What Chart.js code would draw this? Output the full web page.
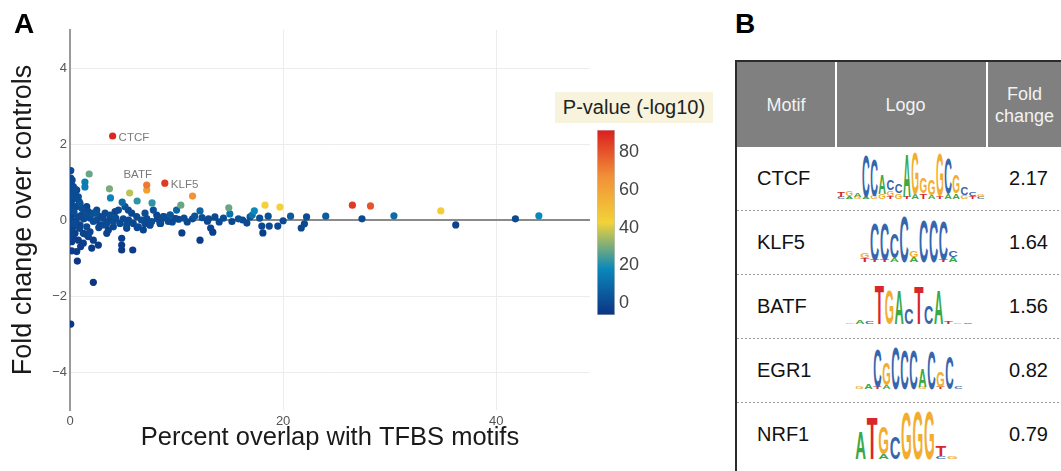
<!DOCTYPE html>
<html>
<head>
<meta charset="utf-8">
<script src="https://cdn.jsdelivr.net/npm/chart.js@4"></script>
<style>
  body { margin: 0; background: #fff; font-family: 'Liberation Sans', Arial, sans-serif; }
  #wrap { position: relative; width: 1061px; height: 471px; overflow: hidden; }
  .panel { position: absolute; top: 10px; font: bold 28px 'Liberation Sans', Arial, sans-serif; line-height: 28px; color: #000; }
  #cbTitle { position: absolute; left: 555px; top: 92px; width: 158px; height: 31px; line-height: 31px;
             background: #f7f3dc; color: #222; font-size: 20px; text-align: center; }
  #tabla { position: absolute; left: 735px; top: 60px; width: 326px; height: 411px; box-sizing: border-box;
           border-left: 2px solid #2b2b2b; border-top: 2px solid #2b2b2b; }
  .cab { position: absolute; top: 0; height: 85px; background: #808080; color: #f2f2f2; font-size: 18px;
         display: flex; align-items: center; justify-content: center; text-align: center; line-height: 22px; }
  .fila { position: absolute; left: 0; width: 324px; height: 63px; }
  .sep { position: absolute; left: 0; width: 324px; height: 1px;
         background-image: linear-gradient(to right, #9a9a9a 50%, transparent 50%); background-size: 4px 1px; }
  .nombre { position: absolute; left: 20px; top: 0; height: 63px; line-height: 63px; font-size: 20px; color: #111; }
  .valor { position: absolute; right: 13px; top: 0; height: 63px; line-height: 63px; font-size: 20px; color: #111; }
  .logo { position: absolute; }
</style>
</head>
<body>
<div id="wrap">
  <canvas id="graficoScatter" width="720" height="471" style="position:absolute;left:0;top:0"></canvas>
  <canvas id="graficoEscala" width="60" height="215" style="position:absolute;left:590px;top:115px"></canvas>
  <div class="panel" style="left:14px">A</div>
  <div class="panel" style="left:735px">B</div>
  <div id="cbTitle">P-value (-log10)</div>
  <div id="tabla"></div>
</div>
<script>
// ---- datos panel A ----
const overlapPct = [
  4.0, 8.9, 7.2, 7.2, 11.5, 1.8, 1.4, 1.4, 3.7, 3.8,
  5.6, 4.9, 6.3, 7.7, 10.4, 14.9, 15.0, 17.3, 17.1, 18.3,
  19.7, 26.5, 28.2, 30.4, 34.8, 44.0, 10.0, 12.2, 20.7, 24.0,
  22.2, 27.4, 41.8, 36.2, 21.7, 22.0, 18.1, 19.5, 18.0, 18.7,
  16.6, 15.8, 14.4, 13.6, 12.9, 12.2, 13.2, 13.4, 10.5, 11.5,
  18.6, 9.0, 9.6, 10.2, 11.0, 12.4, 14.0, 15.2, 16.2, 17.8,
  20.0, 16.9, 11.7, 10.7, 13.0, 9.4, 9.9, 8.5, 8.8, 7.5,
  0.07, 0.07, 0.31, 0.47, 0.63, 0.47, 0.78, 0.25, 0.87, 0.94,
  0.56, 0.31, 1.10, 1.25, 1.57, 1.72, 1.57, 2.19, 2.51, 2.82,
  3.29, 3.76, 4.23, 4.54, 5.16, 5.47, 5.79, 6.26, 7.04, 7.20,
  7.82, 8.14, 8.76, 9.39, 9.86, 0.16, 0.16, 0.31, 0.94, 1.57,
  2.19, 2.82, 3.45, 4.07, 4.69, 5.32, 5.94, 6.41, 7.04, 7.67,
  8.45, 9.23, 0.31, 0.47, 0.90, 1.25, 0.78, 1.25, 1.72, 1.88,
  2.19, 2.66, 2.04, 3.13, 3.45, 4.07, 4.85, 4.85, 4.85, 5.89,
  5.32, 6.30, 6.88, 7.51, 8.45, 0.16, 0.69, 2.19, 0.07, 0.16,
  0.16, 0.63, 1.41, 2.50, 0.16, 0.05, 0.05, 0.38, 0.75, 1.30,
  1.90, 2.50, 3.10, 3.70, 4.30, 5.00, 5.50, 6.70, 8.20, 3.60,
  0.10, 0.20, 0.40, 0.05, 0.55, 1.05, 0.08, 0.30, 1.00, 2.70
];
const foldChange = [
  2.21, 0.97, 0.92, 0.79, 0.63, 1.21, 1.00, 0.87, 0.82, 0.58,
  0.71, 0.47, 0.50, 0.45, 0.39, 0.32, 0.16, 0.24, 0.13, 0.39,
  0.34, 0.39, 0.37, 0.11, 0.24, 0.11, 0.26, 0.24, 0.10, 0.10,
  0.08, 0.03, 0.03, -0.13, -0.21, -0.10, -0.34, -0.16, -0.16, -0.16,
  -0.08, 0.03, 0.05, 0.08, -0.03, -0.53, -0.21, -0.32, -0.34, 0.03,
  0.10, 0.05, -0.05, 0.02, -0.05, 0.06, -0.05, -0.04, 0.00, 0.05,
  -0.02, 0.08, 0.10, 0.05, 0.03, 0.13, 0.04, -0.09, 0.09, -0.13,
  1.30, 1.10, 0.88, 0.81, 0.79, 0.70, 0.61, 0.53, 0.48, 0.44,
  0.35, 0.35, 0.31, 0.28, 0.35, 0.22, 0.13, 0.18, 0.26, 0.09,
  0.18, 0.13, 0.22, 0.26, 0.35, 0.26, 0.18, 0.09, 0.18, 0.04,
  0.26, 0.13, 0.09, 0.13, 0.04, 0.13, 0.00, -0.09, -0.13, -0.18,
  -0.04, -0.13, -0.09, -0.18, -0.09, -0.13, -0.09, -0.18, -0.09, -0.04,
  -0.09, -0.04, -0.18, -0.35, -0.22, -0.35, -0.53, -0.61, -0.44, -0.31,
  -0.53, -0.66, -0.74, -0.13, -0.35, -0.04, -0.48, -0.66, -0.79, -0.79,
  -0.22, -0.20, -0.26, -0.13, -0.04, -0.81, -1.08, -1.64, -2.74, -0.26,
  -0.57, -0.83, -0.37, 0.18, 0.79, 0.63, 0.39, 0.21, 0.08, 0.03,
  0.05, 0.00, 0.05, 0.00, 0.05, 0.03, 0.00, 0.00, 0.03, -0.26,
  0.95, 1.05, 0.60, 0.22, -0.05, 0.12, -0.40, -0.48, -0.70, -0.20
];
const pValue = [
  90, 86, 72, 62, 66, 28, 15, 15, 30, 17,
  37, 10, 22, 22, 28, 28, 12, 18, 12, 43,
  43, 86, 80, 10, 45, 18, 8, 8, 5, 5,
  1, 0, 0, -2, -1, 0, -3, 0, -1, 0,
  0, 2, 1, 0, -1, -4, -2, -3, -3, 0,
  2, 1, 0, 0, -1, 1, 0, -1, 0, 1,
  0, 2, 3, 1, 0, 3, 0, -1, 1, -2,
  0, -1, 0, 1, -2, 0, 1, -1, 0, 2,
  -1, 0, 1, 0, -2, 0, 1, 2, 0, -1,
  0, 1, -1, 0, 2, 0, -1, 0, 1, 0,
  2, -1, 0, 1, 0, -3, -2, 0, -1, 0,
  1, -2, 0, -1, 0, 1, -1, 0, 0, 1,
  -1, 0, -2, -3, -1, -2, -4, -3, -2, -1,
  -3, -4, -4, 0, -2, 1, -3, -4, -5, -4,
  -1, -1, -2, 0, 0, -4, -5, -6, -6, -2,
  -3, -4, -2, 2, 0, 1, 0, 1, 0, 0,
  1, 0, 0, -1, 1, 0, 0, 1, 0, -2,
  0, -1, 1, 0, -1, 0, -2, -3, -4, -1
];
const labelNames = ['CTCF', 'KLF5', 'BATF'];
const labelIdx = [0, 1, 2];
const xTicks = [0, 20, 40];
const yTicks = [-4, -2, 0, 2, 4];
const cbTicks = [0, 20, 40, 60, 80];
const pMin = -6.6, pMax = 92;

// ---- datos panel B ----
const motifs = ['CTCF', 'KLF5', 'BATF', 'EGR1', 'NRF1'];
const motifFold = [2.17, 1.64, 1.56, 0.82, 0.79];
const ctcfLogo = [
  [['C',.05],['T',.12]], [['A',.06],['G',.12]], [['G',.05],['A',.08]], [['A',.05],['C',.9]],
  [['G',.07],['C',.78]], [['G',.1],['A',.42]], [['T',.06],['G',.12],['C',.22]], [['G',.12],['C',.2]],
  [['T',.05],['A',.92]], [['A',.1],['G',.9]], [['T',.12],['G',.32]], [['A',.08],['G',.34]],
  [['T',.06],['G',.92]], [['A',.1],['C',.76]], [['A',.12],['G',.38]], [['G',.08],['C',.15]],
  [['T',.06],['C',.08]], [['C',.04],['G',.05]]
];
const klf5Logo = [
  [['T',.08],['G',.12]], [['T',.05],['C',.82]], [['T',.05],['C',.82]], [['A',.08],['C',.55]],
  [['C',1]], [['A',.1],['G',.14]], [['C',.92]], [['C',.92]], [['T',.05],['C',.88]], [['A',.1],['C',.14]]
];
const batfLogo = [
  [['G',.04]], [['A',.08]], [['C',.05]], [['T',1]], [['G',.85]], [['A',.85]], [['C',.4]],
  [['T',.95]], [['C',.45]], [['A',.85]], [['T',.06]], [['G',.03]], [['C',.03]]
];
const egr1Logo = [
  [['G',.05]], [['A',.12]], [['T',.05],['C',.85]], [['A',.1],['G',.5]], [['C',.95]], [['C',.9]],
  [['C',.9]], [['G',.05],['A',.4]], [['C',.85]], [['T',.05],['G',.35]], [['C',.75]], [['C',.06]]
];
const nrf1Logo = [
  [['A',.55]], [['T',.85]], [['A',.1],['G',.55]], [['C',.45]], [['G',.95]], [['G',1]], [['G',1]],
  [['C',.06],['T',.22]], [['G',.05]]
];
const motifLogos = [ctcfLogo, klf5Logo, batfLogo, egr1Logo, nrf1Logo];

// escala Portland
const portland = [[0, [12, 51, 131]], [0.25, [10, 136, 186]], [0.5, [242, 211, 56]], [0.75, [242, 143, 56]], [1, [217, 30, 30]]];
function colorFor(p) {
  let t = (p - pMin) / (pMax - pMin);
  t = Math.max(0, Math.min(1, t));
  for (let i = 1; i < portland.length; i++) {
    if (t <= portland[i][0]) {
      const a = portland[i - 1], b = portland[i];
      const f = (t - a[0]) / (b[0] - a[0]);
      const c = a[1].map((v, k) => Math.round(v + (b[1][k] - v) * f));
      return `rgb(${c[0]},${c[1]},${c[2]})`;
    }
  }
  return 'rgb(217,30,30)';
}

Chart.defaults.font.family = "'Liberation Sans', Arial, sans-serif";

const puntos = overlapPct.map((x, i) => ({ x: x, y: foldChange[i], p: pValue[i], name: '' }));
labelIdx.forEach((idx, k) => { puntos[idx].name = labelNames[k]; });
puntos.sort((a, b) => a.p - b.p);

const etiquetas = {
  id: 'etiquetas',
  afterDatasetsDraw(chart) {
    const ctx = chart.ctx;
    const meta = chart.getDatasetMeta(0);
    ctx.save();
    ctx.font = "11.5px 'Liberation Sans', Arial, sans-serif";
    ctx.fillStyle = '#7a7a7a';
    ctx.textBaseline = 'middle';
    chart.data.datasets[0].data.forEach((d, i) => {
      if (!d.name) return;
      const el = meta.data[i];
      if (d.name === 'BATF') {
        ctx.textAlign = 'center';
        ctx.fillText(d.name, el.x - 9, el.y - 10);
      } else {
        ctx.textAlign = 'left';
        ctx.fillText(d.name, el.x + 6, el.y + 2);
      }
    });
    ctx.restore();
  }
};

const ctxScatter = document.getElementById('graficoScatter');
new Chart(ctxScatter, {
  type: 'scatter',
  data: {
    datasets: [{
      label: 'Motifs',
      data: puntos,
      backgroundColor: c => colorFor(c.raw ? c.raw.p : 0),
      borderWidth: 0,
      pointRadius: 3.6
    }]
  },
  options: {
    responsive: false,
    animation: false,
    devicePixelRatio: 1,
    layout: { padding: { left: 0, top: 30, right: 130, bottom: 0 } },
    plugins: { legend: { display: false }, tooltip: { enabled: false } },
    scales: {
      x: {
        type: 'linear', min: 0, max: 48.8,
        afterBuildTicks: s => { s.ticks = xTicks.map(v => ({ value: v })); },
        afterFit: s => { s.height = 61; },
        ticks: { color: '#555', font: { size: 13 }, padding: 4 },
        grid: { drawTicks: false, color: c => (c.tick && c.tick.value === 0) ? 'rgba(0,0,0,0)' : '#ececec' },
        border: { display: false },
        title: { display: true, text: 'Percent overlap with TFBS motifs', color: '#1a1a1a',
                 font: { size: 25.5 }, padding: { top: 0, bottom: 18 } }
      },
      y: {
        min: -5, max: 5,
        afterBuildTicks: s => { s.ticks = yTicks.map(v => ({ value: v })); },
        afterFit: s => { s.width = 70; },
        ticks: { color: '#555', font: { size: 13 }, padding: 3,
                 callback: v => v < 0 ? '\u2212' + Math.abs(v) : String(v) },
        grid: { drawTicks: false,
                color: c => (c.tick && c.tick.value === 0) ? '#8a8a8a' : '#ececec',
                lineWidth: c => (c.tick && c.tick.value === 0) ? 2 : 1 },
        border: { display: true, color: '#9a9a9a', width: 2 },
        title: { display: true, text: 'Fold change over controls', color: '#1a1a1a',
                 font: { size: 27 }, padding: { top: 7, bottom: 0 } }
      }
    }
  },
  plugins: [etiquetas]
});

// barra de color
const ctxEscala = document.getElementById('graficoEscala');
new Chart(ctxEscala, {
  type: 'bar',
  data: {
    labels: [''],
    datasets: [{
      data: [[pMin, pMax]],
      backgroundColor: c => {
        const ch = c.chart;
        if (!ch.chartArea) return '#888';
        const y = ch.scales.y;
        const g = ch.ctx.createLinearGradient(0, y.getPixelForValue(pMin), 0, y.getPixelForValue(pMax));
        portland.forEach(s => g.addColorStop(s[0], `rgb(${s[1].join(',')})`));
        return g;
      },
      borderColor: '#c4c4c4',
      borderWidth: 1,
      borderSkipped: false,
      barPercentage: 1,
      categoryPercentage: 1
    }]
  },
  options: {
    responsive: false,
    animation: false,
    devicePixelRatio: 1,
    layout: { padding: { left: 7, top: 12, bottom: 10, right: 0 } },
    plugins: { legend: { display: false }, tooltip: { enabled: false } },
    scales: {
      x: { display: false },
      y: {
        position: 'right', min: pMin, max: pMax,
        afterBuildTicks: s => { s.ticks = cbTicks.map(v => ({ value: v })); },
        afterFit: s => { s.width = 35; },
        ticks: { color: '#444', font: { size: 18 }, padding: 4 },
        grid: { display: false, drawTicks: false },
        border: { display: false }
      }
    }
  }
});

// ---- panel B: tabla ----
const logoColors = { A: '#3aa845', C: '#3566ad', G: '#f2ad2f', T: '#d9262c' };
const logoBoxes = [
  { left: 100, w: 148, h: 48, bottom: 11 },
  { left: 123, w: 98, h: 46, bottom: 12 },
  { left: 108, w: 128, h: 40, bottom: 14 },
  { left: 118, w: 108, h: 45, bottom: 13 },
  { left: 118, w: 103, h: 50, bottom: 7 }
];
function logoSvg(cols, w, h) {
  const cw = w / cols.length;
  let s = `<svg width="${w}" height="${h}" style="overflow:visible;display:block">`;
  cols.forEach((col, i) => {
    let yb = h;
    col.forEach(([ch, f]) => {
      const hp = f * h;
      s += `<text x="0" y="0" font-size="10" font-weight="bold" font-family="Liberation Sans, Arial, sans-serif"` +
           ` fill="${logoColors[ch]}" textLength="${(cw * 0.94).toFixed(2)}" lengthAdjust="spacingAndGlyphs"` +
           ` transform="translate(${(i * cw + cw * 0.03).toFixed(2)},${yb.toFixed(2)}) scale(1,${(hp / 7.2).toFixed(3)})">${ch}</text>`;
      yb -= hp;
    });
  });
  return s + '</svg>';
}

const tabla = document.getElementById('tabla');
let html = '';
html += '<div class="cab" style="left:0;width:98px">Motif</div>';
html += '<div class="cab" style="left:100px;width:149px;padding-right:12px;box-sizing:border-box">Logo</div>';
html += '<div class="cab" style="left:251px;width:73px">Fold<br>change</div>';
motifs.forEach((m, i) => {
  const top = 85 + i * 64;
  const b = logoBoxes[i];
  html += `<div class="fila" style="top:${top}px">` +
          `<div class="nombre">${m}</div>` +
          `<div class="logo" style="left:${b.left}px;top:${63 - b.bottom - b.h}px">${logoSvg(motifLogos[i], b.w, b.h)}</div>` +
          `<div class="valor">${motifFold[i].toFixed(2)}</div></div>`;
  if (i < motifs.length - 1) html += `<div class="sep" style="top:${top + 63}px"></div>`;
});
tabla.innerHTML = html;
</script>
</body>
</html>
